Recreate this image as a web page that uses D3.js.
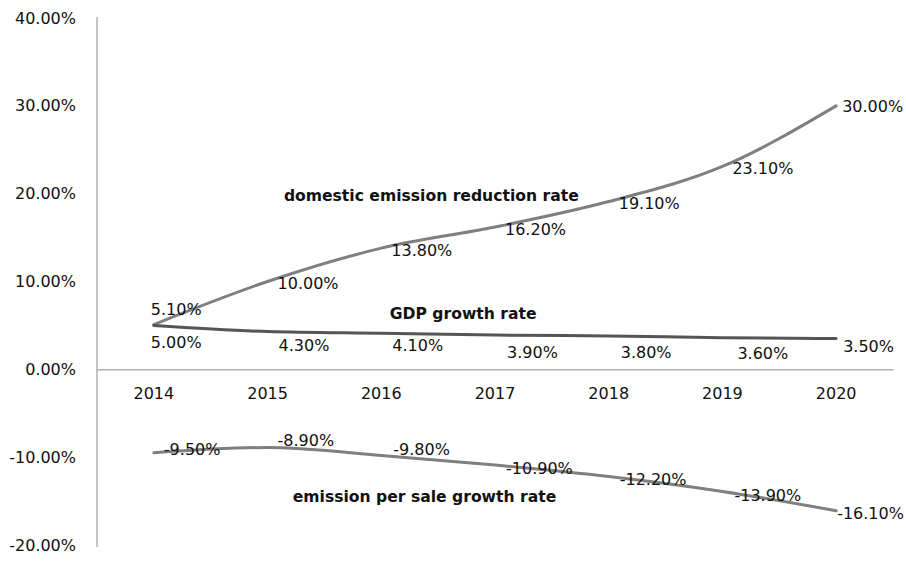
<!DOCTYPE html>
<html><head><meta charset="utf-8">
<script src="https://cdn.jsdelivr.net/npm/d3@7"></script>
<style>
html,body{margin:0;padding:0;background:#fff;}
svg{display:block;font-family:"DejaVu Sans",sans-serif;}
</style></head>
<body><svg id="c" width="906" height="564"></svg>
<script>
const years = ["2014","2015","2016","2017","2018","2019","2020"];
const domesticReduction = [5.1, 10.0, 13.8, 16.2, 19.1, 23.1, 30.0];
const gdpGrowth = [5.0, 4.3, 4.1, 3.9, 3.8, 3.6, 3.5];
const emissionPerSale = [-9.5, -8.9, -9.8, -10.9, -12.2, -13.9, -16.1];
const yTicks = [-20, -10, 0, 10, 20, 30, 40];
const seriesNames = ["domestic emission reduction rate", "GDP growth rate", "emission per sale growth rate"];

const svg = d3.select("#c");
const x = d3.scaleBand().domain(years).range([97, 893]);
const y = d3.scaleLinear().domain([-20, 40]).range([545, 18]);
const cx = d => x(d) + x.bandwidth() / 2;
const loc = d3.formatLocale({decimal: ".", thousands: ",", grouping: [3], currency: ["", ""], minus: "-"});
const pct = d => loc.format(".2f")(d) + "%";

// Y axis
const yAxis = svg.append("g").attr("transform", "translate(97,0)")
  .call(d3.axisLeft(y).tickValues(yTicks).tickSize(0).tickPadding(21).tickFormat(pct));
yAxis.select(".domain").remove();
yAxis.selectAll("text").attr("font-size", 16).attr("fill", "#111")
  .attr("font-family", "DejaVu Sans");
svg.append("line").attr("x1", 97).attr("x2", 97)
  .attr("y1", y(40) - 1).attr("y2", y(-20) + 2)
  .attr("stroke", "#8a8a8a").attr("stroke-width", 1);

// X axis at zero
const xAxis = svg.append("g").attr("transform", `translate(0,${y(0)})`)
  .call(d3.axisBottom(x).tickSize(0).tickPadding(18));
xAxis.select(".domain").attr("stroke", "#8a8a8a");
xAxis.selectAll("text").attr("font-size", 16).attr("fill", "#111")
  .attr("font-family", "DejaVu Sans");

const line = d3.line().x((d, i) => cx(years[i])).y(d => y(d))
  .curve(d3.curveMonotoneX);

const series = [
  {vals: domesticReduction, color: "#7f7f7f",
   off: [[-3,-15],[10,2],[10,2],[10,2],[10,2],[10,2],[6,1]]},
  {vals: gdpGrowth, color: "#555555",
   off: [[-3,17],[11,14],[11,12],[12,17],[12,17],[15,16],[7,8]]},
  {vals: emissionPerSale, color: "#7f7f7f",
   off: [[10,-3],[10,-7],[12,-6],[11,3],[11,3],[12,4],[1,3]]}
];

series.forEach(s => {
  svg.append("path").datum(s.vals).attr("d", line)
    .attr("fill", "none").attr("stroke", s.color).attr("stroke-width", 3)
    .attr("stroke-linejoin", "round").attr("stroke-linecap", "round");
});
series.forEach(s => {
  svg.append("g").selectAll("text").data(s.vals).join("text")
    .attr("x", (d, i) => cx(years[i]) + s.off[i][0])
    .attr("y", (d, i) => y(d) + s.off[i][1])
    .attr("dominant-baseline", "central")
    .attr("font-size", 16).attr("fill", "#111")
    .text(pct);
});

// Series name labels (position given as fractional category index and value)
const nameAnchors = [
  {i: 2.44, v: 19.7},
  {i: 2.72, v: 6.3},
  {i: 2.38, v: -14.5}
];
nameAnchors.forEach((a, k) => {
  const px = cx(years[0]) + a.i * x.step();
  svg.append("text").attr("x", px).attr("y", y(a.v))
    .attr("text-anchor", "middle").attr("dominant-baseline", "central")
    .attr("font-size", 15.6).attr("font-weight", "bold").attr("fill", "#111")
    .text(seriesNames[k]);
});
</script></body></html>
